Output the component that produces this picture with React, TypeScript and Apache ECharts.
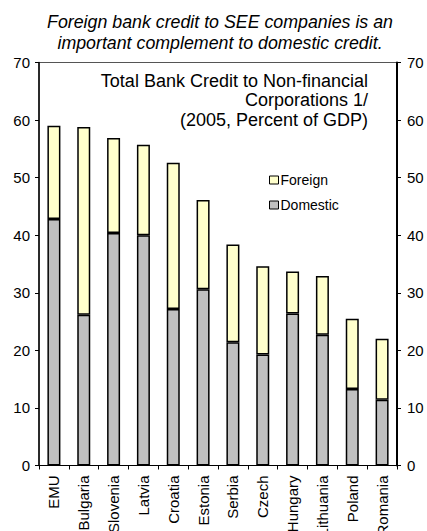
import React, { useEffect, useRef } from "react";
import * as echarts from "echarts";

const categories = ["EMU", "Bulgaria", "Slovenia", "Latvia", "Croatia", "Estonia", "Serbia", "Czech", "Hungary", "Lithuania", "Poland", "Romania"];
const domestic = [42.8, 26.2, 40.4, 40.0, 27.2, 30.6, 21.4, 19.3, 26.4, 22.7, 13.3, 11.4];
const total = [59.0, 58.8, 56.9, 55.7, 52.6, 46.1, 38.4, 34.6, 33.7, 32.9, 25.5, 22.0];
const foreign = total.map((t, i) => +(t - domestic[i]).toFixed(1));
const yTicks = [0, 10, 20, 30, 40, 50, 60, 70];

const FONT = "'Liberation Sans', Arial, sans-serif";

export default function App() {
  const ref = useRef<HTMLDivElement>(null);
  useEffect(() => {
    document.body.style.margin = "0";
    const chart = echarts.init(ref.current!, null, { renderer: "svg" });
    const yAxisCommon = {
      type: "value" as const,
      min: yTicks[0],
      max: yTicks[yTicks.length - 1],
      interval: 10,
      splitLine: { show: false },
      axisTick: { show: true, length: 4, lineStyle: { color: "#000" } },
    };
    chart.setOption({
      animation: false,
      textStyle: { fontFamily: FONT },
      grid: {
        left: 39,
        right: 30,
        top: 62.5,
        bottom: 65.5,
        show: true,
        borderColor: "#555",
        borderWidth: 1,
        containLabel: false,
        outerBoundsMode: "none",
      },
      graphic: [
        { type: "text", x: 220, y: 13, style: { text: "Foreign bank credit to SEE companies is an", textAlign: "center", font: `italic 17.8px ${FONT}`, fill: "#000" } },
        { type: "text", x: 220, y: 34, style: { text: "important complement to domestic credit.", textAlign: "center", font: `italic 17.8px ${FONT}`, fill: "#000" } },
        { type: "text", x: 368, y: 72, style: { text: "Total Bank Credit to Non-financial", textAlign: "right", font: `18px ${FONT}`, fill: "#000" } },
        { type: "text", x: 368, y: 91, style: { text: "Corporations 1/", textAlign: "right", font: `18px ${FONT}`, fill: "#000" } },
        { type: "text", x: 368, y: 111, style: { text: "(2005, Percent of GDP)", textAlign: "right", font: `18px ${FONT}`, fill: "#000" } },
      ],
      legend: {
        left: 264,
        top: 168,
        orient: "vertical",
        itemGap: 11,
        itemWidth: 9,
        itemHeight: 8,
        icon: "rect",
        data: ["Foreign", "Domestic"],
        textStyle: { fontSize: 14, color: "#000", fontFamily: FONT, padding: [0, 0, 0, -3] },
        itemStyle: { borderColor: "#000", borderWidth: 1 },
      },
      xAxis: {
        type: "category",
        data: categories,
        axisLine: { lineStyle: { color: "#000", width: 1 } },
        axisTick: { show: true, length: 4, alignWithLabel: false, lineStyle: { color: "#000" } },
        axisLabel: { rotate: 90, color: "#000", fontSize: 15, fontFamily: FONT, margin: 10, interval: 0 },
      },
      yAxis: [
        {
          ...yAxisCommon,
          position: "left",
          axisLine: { show: true, lineStyle: { color: "#000", width: 1.5 } },
          axisLabel: { color: "#000", fontSize: 15, fontFamily: FONT, margin: 9 },
        },
        {
          ...yAxisCommon,
          position: "right",
          axisLine: { show: true, lineStyle: { color: "#000", width: 2 } },
          axisLabel: { color: "#000", fontSize: 15, fontFamily: FONT, margin: 10 },
        },
      ],
      series: [
        {
          name: "Domestic",
          type: "bar",
          stack: "total",
          data: domestic,
          barWidth: 13,
          itemStyle: { color: "#C0C0C0", borderColor: "#000", borderWidth: 1.5 },
        },
        {
          name: "Foreign",
          type: "bar",
          stack: "total",
          data: foreign,
          barWidth: 13,
          itemStyle: { color: "#FFFFCC", borderColor: "#000", borderWidth: 1.5 },
        },
      ],
    });
    return () => chart.dispose();
  }, []);
  return <div ref={ref} style={{ width: 427, height: 531 }} />;
}
